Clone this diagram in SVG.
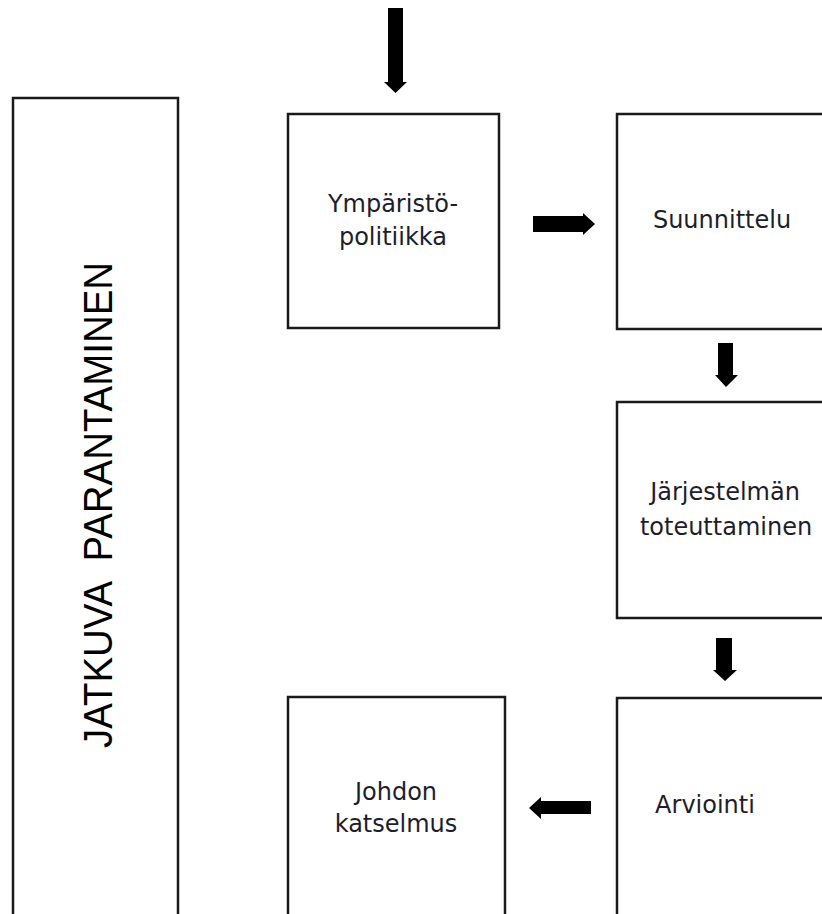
<svg xmlns="http://www.w3.org/2000/svg" width="822" height="914" viewBox="0 0 822 914">
<style>
.box{fill:#fff;stroke:#1a1a1a;stroke-width:2.5}
.t{font-family:"DejaVu Sans",Verdana,sans-serif;font-size:24px;fill:#1e1e2a;text-anchor:middle}
.big{font-family:"Liberation Sans",Arial,sans-serif;font-size:40px;fill:#000;text-anchor:middle}
.arr{fill:#000}
</style>
<rect width="822" height="914" fill="#fff"/>
<g id="jatkuva">
<rect class="box" x="13" y="98" width="165" height="830"/>
<text class="big" transform="translate(112,505) rotate(-90)" textLength="486" lengthAdjust="spacingAndGlyphs" xml:space="preserve">JATKUVA  PARANTAMINEN</text>
</g>
<g id="ymparistopolitiikka">
<rect class="box" x="288" y="114" width="211" height="214"/>
<text class="t" x="393" y="212">Ympäristö-</text>
<text class="t" x="393" y="245">politiikka</text>
</g>
<g id="suunnittelu">
<rect class="box" x="617" y="114" width="215" height="215"/>
<text class="t" x="722" y="228">Suunnittelu</text>
</g>
<g id="jarjestelman">
<rect class="box" x="617" y="402" width="215" height="216"/>
<text class="t" x="725" y="500">Järjestelmän</text>
<text class="t" x="726" y="535">toteuttaminen</text>
</g>
<g id="arviointi">
<rect class="box" x="617" y="698" width="215" height="230"/>
<text class="t" x="705" y="813">Arviointi</text>
</g>
<g id="johdon">
<rect class="box" x="288" y="697" width="217" height="231"/>
<text class="t" x="396" y="800">Johdon</text>
<text class="t" x="396" y="832">katselmus</text>
</g>
<g id="connectors">
<polygon class="arr" points="388,8 403,8 403,82 407,82 395.5,93 384,82 388,82"/>
<polygon class="arr" points="533,216 583,216 583,213 595,224 583,235 583,232 533,232"/>
<polygon class="arr" points="718,343 733,343 733,375 738,375 726,387 715,375 718,375"/>
<polygon class="arr" points="716,638 732,638 732,670 737,670 725,681 713,670 716,670"/>
<polygon class="arr" points="591,801 591,814 541,814 541,819 529,808 541,797 541,801"/>
</g>
</svg>
